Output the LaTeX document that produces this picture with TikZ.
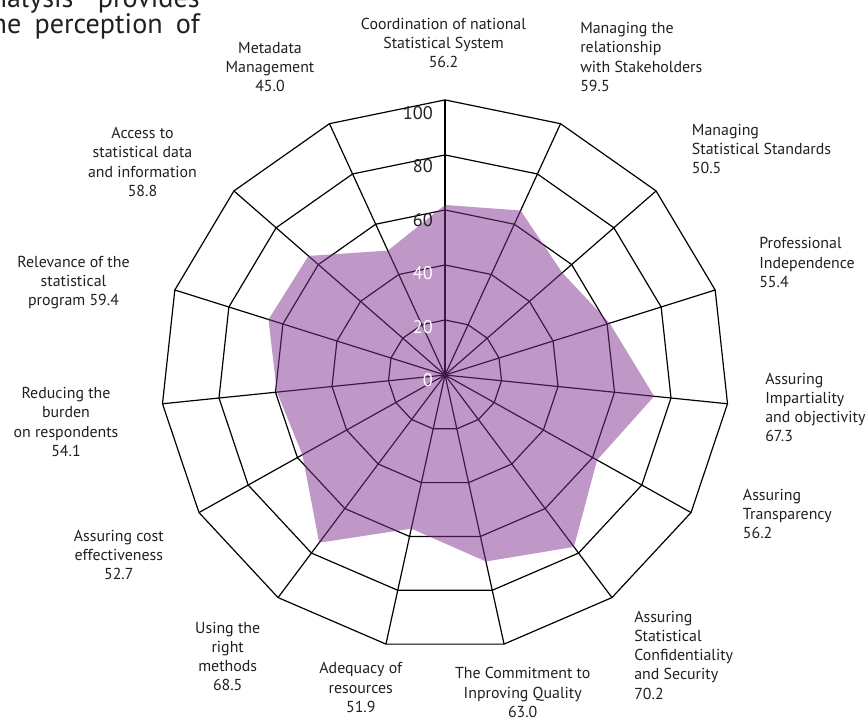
\documentclass[tikz,border=0pt]{standalone}
\usepackage{fontspec}
\setmainfont{PT Sans}
\usepackage{xcolor}
\usetikzlibrary{positioning}
\definecolor{txt}{HTML}{231F20}
\definecolor{radarfill}{RGB}{129,49,145}
\tikzset{
  grid line/.style={black, line width=0.85pt, line join=miter},
  cat/.style={inner sep=0pt, text=txt, font=\fontsize{11.3}{13.7}\selectfont},
  tick/.style={inner sep=0pt, anchor=east, font=\fontsize{13}{13}\selectfont},
  intro/.style={inner sep=0pt, anchor=base east, text=txt, font=\fontsize{20}{20}\selectfont},
}

\begin{document}
\begin{tikzpicture}[x=0.025cm, y=-0.025cm]
  \useasboundingbox (0,0) rectangle (867,719);
  \clip (0,0) rectangle (867,719);

  % text running above the chart
  \node[intro] (introA) at (200,7) {\makebox[5.2cm][s]{nalysis provides}};
  \node[intro] (introB) at (200,33) {\makebox[5.2cm][s]{he perception of}};

  \begin{scope}[shift={(445,375)}, x=0.071cm, y=0.06875cm]
    \coordinate (o) at (0,0);
    \foreach \r in {20,40,...,100}
      \draw[grid line] (90:\r) \foreach \a in {1,...,14} { -- ({90-24*\a}:\r) } -- cycle;
    \foreach \a in {0,...,14}
      \draw[grid line] (o) -- ({90-24*\a}:100);
    % scores, first axis at the top, then clockwise
    \fill[radarfill, opacity=0.5] (90:{1.1*56.2})
      \foreach \v [count=\i] in {59.5,50.5,55.4,67.3,56.2,70.2,63.0,51.9,68.5,52.7,54.1,59.4,58.8,45.0}
        { -- ({90-24*\i}:{1.1*\v}) } -- cycle;
  \end{scope}

  % scale
  \foreach \v/\c in {100/txt,80/txt,60/txt,40/white,20/white,0/white}
    \node[tick, text=\c] (tick\v) at (433,{380-2.67*\v}) {\v};

  % axis labels
  \node[cat, align=center] (coord) at (443.5,43) {Coordination of national\\Statistical System\\56.2};
  \node[cat, align=left, anchor=west] (stake) at (580,57) {Managing the\\relationship\\with Stakeholders\\59.5};
  \node[cat, align=left, anchor=west] (stand) at (691.7,149) {Managing\\Statistical Standards\\50.5};
  \node[cat, align=left, anchor=west] (indep) at (759,262.7) {Professional\\Independence\\55.4};
  \node[cat, align=left, anchor=west] (impart) at (765,407.5) {Assuring\\Impartiality\\and objectivity\\67.3};
  \node[cat, align=left, anchor=west] (transp) at (742.7,514) {Assuring\\Transparency\\56.2};
  \node[cat, align=left, anchor=west] (confid) at (634,655) {Assuring\\Statistical\\Confidentiality\\and Security\\70.2};
  \node[cat, align=center] (quality) at (522.7,692.5) {The Commitment to\\Inproving Quality\\63.0};
  \node[cat, align=center] (resour) at (360.8,687.5) {Adequacy of\\resources\\51.9};
  \node[cat, align=center] (method) at (227.7,656.5) {Using the\\right\\methods\\68.5};
  \node[cat, align=center] (cost) at (118.8,555) {Assuring cost\\effectiveness\\52.7};
  \node[cat, align=center] (burden) at (66,422) {Reducing the\\burden\\on respondents\\54.1};
  \node[cat, align=center] (relev) at (73.5,282.5) {Relevance of the\\statistical\\program 59.4};
  \node[cat, align=center] (access) at (142.5,162) {Access to\\statistical data\\and information\\58.8};
  \node[cat, align=center] (meta) at (270,67) {Metadata\\Management\\45.0};
\end{tikzpicture}
\end{document}
